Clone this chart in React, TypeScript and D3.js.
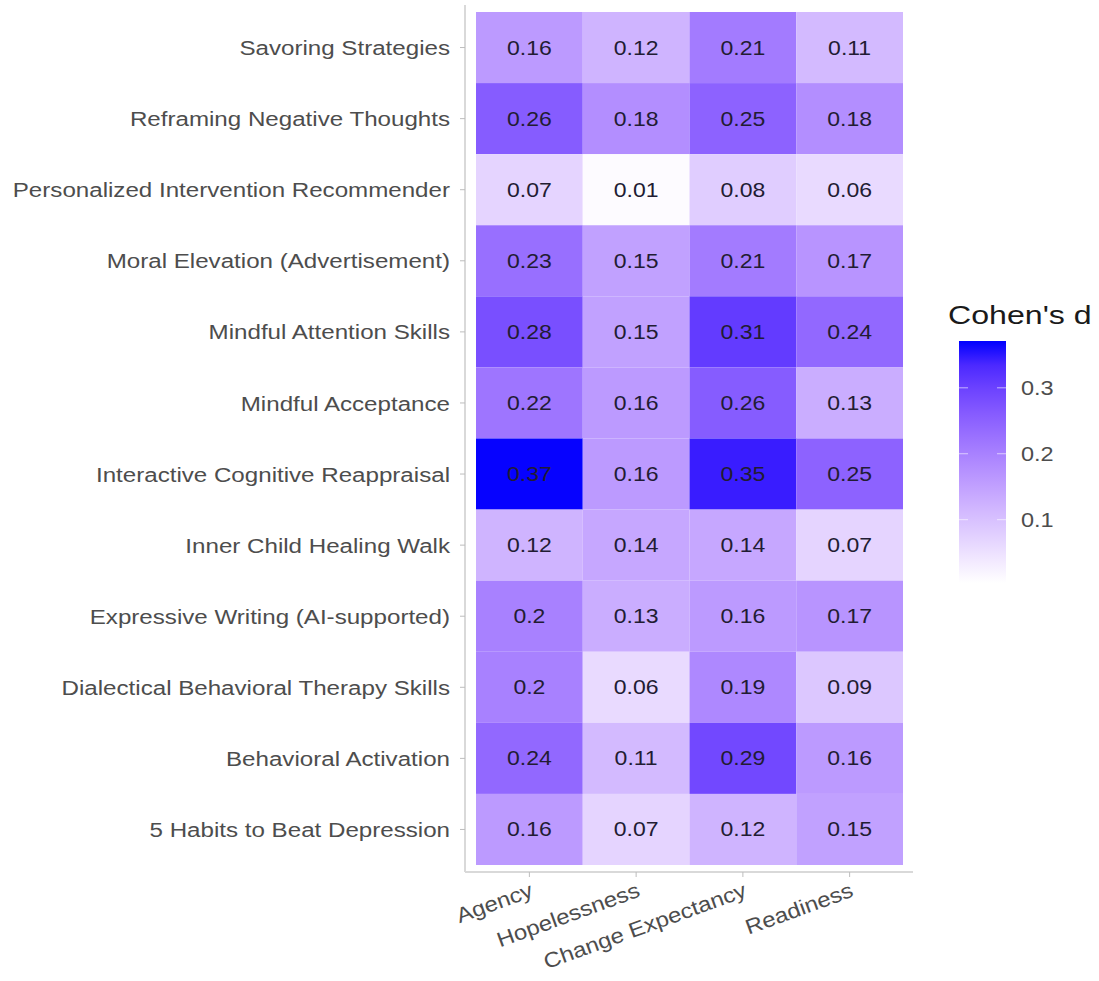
import React, { useEffect, useRef } from 'react';
import * as d3 from 'd3';

const interventions = [
  'Savoring Strategies',
  'Reframing Negative Thoughts',
  'Personalized Intervention Recommender',
  'Moral Elevation (Advertisement)',
  'Mindful Attention Skills',
  'Mindful Acceptance',
  'Interactive Cognitive Reappraisal',
  'Inner Child Healing Walk',
  'Expressive Writing (AI-supported)',
  'Dialectical Behavioral Therapy Skills',
  'Behavioral Activation',
  '5 Habits to Beat Depression',
];

const outcomes = ['Agency', 'Hopelessness', 'Change Expectancy', 'Readiness'];

const agency = [0.16, 0.26, 0.07, 0.23, 0.28, 0.22, 0.37, 0.12, 0.2, 0.2, 0.24, 0.16];
const hopelessness = [0.12, 0.18, 0.01, 0.15, 0.15, 0.16, 0.16, 0.14, 0.13, 0.06, 0.11, 0.07];
const changeExpectancy = [0.21, 0.25, 0.08, 0.21, 0.31, 0.26, 0.35, 0.14, 0.16, 0.19, 0.29, 0.12];
const readiness = [0.11, 0.18, 0.06, 0.17, 0.24, 0.13, 0.25, 0.07, 0.17, 0.09, 0.16, 0.15];

// unrounded limits of the colour scale (values above are rounded labels)
const colorLimits = [0.004, 0.371];
const legendTicks = [0.1, 0.2, 0.3];

function App() {
  const ref = useRef<SVGSVGElement>(null);

  useEffect(() => {
    const svg = d3.select(ref.current);
    svg.selectAll('*').remove();

    const font = '"Liberation Sans", Arial, sans-serif';
    const series = [agency, hopelessness, changeExpectancy, readiness];
    const cells = interventions.flatMap((name, i) =>
      outcomes.map((o, j) => ({ name, outcome: o, value: series[j][i] }))
    );

    const panel = { left: 465, right: 913, top: 5, bottom: 872 };
    const x = d3.scaleBand().domain(outcomes).range([476, 903]);
    const y = d3.scaleBand().domain(interventions).range([12, 865]);

    const color = d3
      .scaleSequential(d3.interpolateLab('white', 'blue'))
      .domain(colorLimits);

    const g = svg.append('g');

    g.selectAll('rect.cell')
      .data(cells)
      .enter()
      .append('rect')
      .attr('class', 'cell')
      .attr('x', (d) => x(d.outcome)!)
      .attr('y', (d) => y(d.name)!)
      .attr('width', x.bandwidth())
      .attr('height', y.bandwidth())
      .attr('fill', (d) => color(d.value));

    // the original looks stretched sideways, so text gets a small x-scale
    g.selectAll('text.val')
      .data(cells)
      .enter()
      .append('text')
      .attr('class', 'val')
      .attr(
        'transform',
        (d) =>
          `translate(${x(d.outcome)! + x.bandwidth() / 2},${y(d.name)! + y.bandwidth() / 2}) scale(1.18,1)`
      )
      .attr('dy', '0.36em')
      .attr('text-anchor', 'middle')
      .attr('font-family', font)
      .attr('font-size', 19.5)
      .attr('fill', '#221c33')
      .text((d) => String(d.value));

    // axis lines (left and bottom only)
    g.append('line')
      .attr('x1', panel.left)
      .attr('x2', panel.left)
      .attr('y1', panel.top)
      .attr('y2', panel.bottom)
      .attr('stroke', '#d9d9d9')
      .attr('stroke-width', 2);
    g.append('line')
      .attr('x1', panel.left)
      .attr('x2', panel.right)
      .attr('y1', panel.bottom)
      .attr('y2', panel.bottom)
      .attr('stroke', '#d9d9d9')
      .attr('stroke-width', 2);

    // y ticks + labels
    interventions.forEach((name) => {
      const cy = y(name)! + y.bandwidth() / 2;
      g.append('line')
        .attr('x1', panel.left - 5)
        .attr('x2', panel.left)
        .attr('y1', cy)
        .attr('y2', cy)
        .attr('stroke', '#bdbdbd');
      g.append('text')
        .attr('transform', `translate(${panel.left - 15},${cy}) scale(1.15,1)`)
        .attr('dy', '0.36em')
        .attr('text-anchor', 'end')
        .attr('font-family', font)
        .attr('font-size', 21)
        .attr('fill', '#4d4d4d')
        .text(name);
    });

    // x ticks + rotated labels
    outcomes.forEach((o) => {
      const cx = x(o)! + x.bandwidth() / 2;
      g.append('line')
        .attr('x1', cx)
        .attr('x2', cx)
        .attr('y1', panel.bottom)
        .attr('y2', panel.bottom + 5)
        .attr('stroke', '#bdbdbd');
      g.append('text')
        .attr(
          'transform',
          `translate(${cx + 5},${panel.bottom + 24}) rotate(-20) scale(1.14,1)`
        )
        .attr('text-anchor', 'end')
        .attr('font-family', font)
        .attr('font-size', 21)
        .attr('fill', '#4d4d4d')
        .text(o);
    });

    // legend
    const lg = { x: 959, w: 47, top: 341, bottom: 583 };
    const ly = d3.scaleLinear().domain(colorLimits).range([lg.bottom, lg.top]);
    const defs = svg.append('defs');
    const grad = defs
      .append('linearGradient')
      .attr('id', 'legendGrad')
      .attr('x1', 0)
      .attr('x2', 0)
      .attr('y1', 1)
      .attr('y2', 0);
    d3.range(0, 1.0001, 0.1).forEach((t) => {
      grad
        .append('stop')
        .attr('offset', t)
        .attr(
          'stop-color',
          color(colorLimits[0] + t * (colorLimits[1] - colorLimits[0]))
        );
    });
    svg
      .append('rect')
      .attr('x', lg.x)
      .attr('y', lg.top)
      .attr('width', lg.w)
      .attr('height', lg.bottom - lg.top)
      .attr('fill', 'url(#legendGrad)');
    legendTicks.forEach((t) => {
      const ty = ly(t);
      [lg.x, lg.x + lg.w - 9].forEach((x0) => {
        svg
          .append('line')
          .attr('x1', x0)
          .attr('x2', x0 + 9)
          .attr('y1', ty)
          .attr('y2', ty)
          .attr('stroke', 'white')
          .attr('stroke-opacity', 0.6);
      });
      svg
        .append('text')
        .attr('transform', `translate(${lg.x + lg.w + 15},${ty}) scale(1.12,1)`)
        .attr('dy', '0.36em')
        .attr('font-family', font)
        .attr('font-size', 21)
        .attr('fill', '#4d4d4d')
        .text(String(t));
    });
    svg
      .append('text')
      .attr('transform', 'translate(948,324) scale(1.26,1)')
      .attr('font-family', font)
      .attr('font-size', 25.5)
      .attr('fill', '#1a1a1a')
      .text("Cohen's d");
  }, []);

  return (
    <svg
      ref={ref}
      width={1099}
      height={981}
      style={{ position: 'absolute', left: 0, top: 0, background: 'white' }}
    ></svg>
  );
}

export default App;
